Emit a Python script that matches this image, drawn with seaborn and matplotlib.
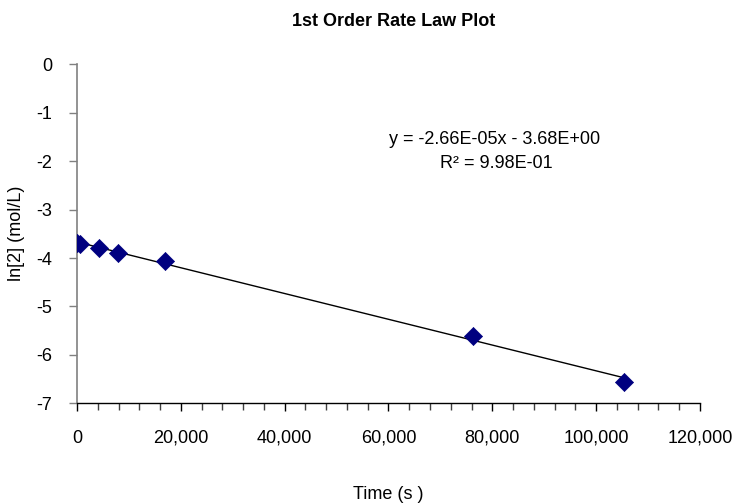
import numpy as np
import pandas as pd
import matplotlib
matplotlib.use("Agg")
import matplotlib.pyplot as plt
import seaborn as sns
from matplotlib.ticker import MultipleLocator, FuncFormatter

# Data
time_s = [0, 600, 4200, 7900, 16900, 76300, 105300]
ln_conc = [-3.69, -3.71, -3.80, -3.89, -4.06, -5.60, -6.55]

title = "1st Order Rate Law Plot"
x_label = "Time (s )"
y_label = "ln[2] (mol/L)"
eq_text = "y = -2.66E-05x - 3.68E+00"
r2_text = "R² = 9.98E-01"

sns.set_style("white")
plt.rcParams['font.family'] = ['Liberation Sans', 'DejaVu Sans']
plt.rcParams['text.color'] = 'black'
plt.rcParams['axes.labelcolor'] = 'black'
plt.rcParams['xtick.color'] = 'black'
plt.rcParams['ytick.color'] = 'black'

df = pd.DataFrame({"t": time_s, "lnc": ln_conc})

fig = plt.figure(figsize=(7.36, 5.04), dpi=100)
ax = fig.add_axes([0.1046, 0.1998, 0.951 - 0.1046, 0.8724 - 0.1998])

sns.regplot(data=df, x="t", y="lnc", ax=ax, ci=None, truncate=True,
            marker="D",
            scatter_kws=dict(s=85, color="#000080", edgecolors="#000080", linewidths=0.5,
                             alpha=1.0, zorder=3),
            line_kws=dict(color="black", linewidth=1.0, zorder=2))

ax.set_xlim(0, 120000)
ax.set_ylim(-7, 0)
ax.xaxis.set_major_locator(MultipleLocator(20000))
ax.xaxis.set_minor_locator(MultipleLocator(4000))
ax.yaxis.set_major_locator(MultipleLocator(1))
ax.xaxis.set_major_formatter(FuncFormatter(lambda v, p: f"{int(v):,}"))
ax.yaxis.set_major_formatter(FuncFormatter(lambda v, p: f"{int(round(v))}"))

for s in ["top", "right"]:
    ax.spines[s].set_visible(False)
ax.spines["left"].set_color("#808080")
ax.spines["left"].set_linewidth(1.2)
ax.spines["bottom"].set_color("#000000")
ax.spines["bottom"].set_linewidth(1.0)

ax.tick_params(axis="x", which="major", direction="out", length=6, width=1, color="black",
               labelsize=13, pad=13, bottom=True, labelcolor="black")
ax.tick_params(axis="x", which="minor", direction="out", length=5, width=1, color="#404040",
               bottom=True)
ax.tick_params(axis="y", which="major", direction="out", length=6, width=1, color="#808080",
               labelsize=13, pad=12, left=True, labelcolor="black")

ax.set_xlabel(x_label, fontsize=13, labelpad=28, color="black")
ax.set_ylabel(y_label, fontsize=13, labelpad=8, color="black")
fig.text(0.535, 1 - 22 / 504, title, ha="center", va="center", fontsize=13,
         fontweight="bold", color="black")

fig.text(0.672, 1 - 140 / 504, eq_text, ha="center", va="center", fontsize=13, color="black")
fig.text(0.674, 1 - 164 / 504, r2_text, ha="center", va="center", fontsize=13, color="black")

fig.savefig("out.png", dpi=100)
